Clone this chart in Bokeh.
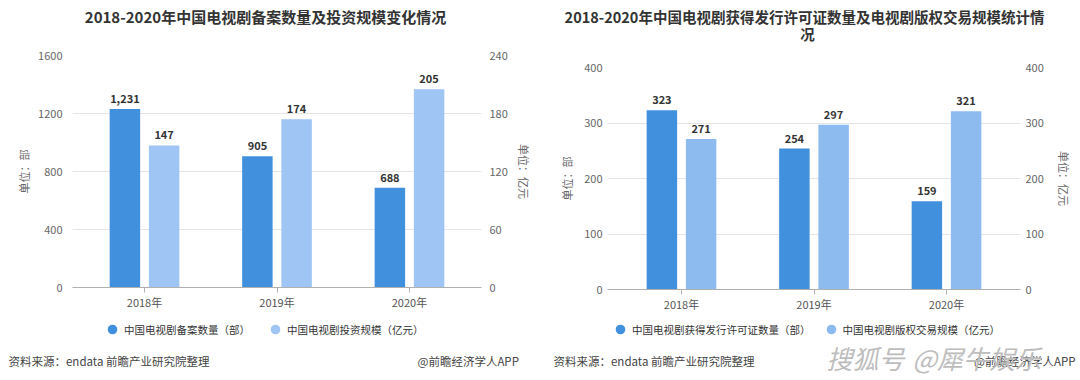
from bokeh.plotting import figure
from bokeh.models import (FactorRange, Range1d, LinearAxis, ColumnDataSource, LabelSet,
                          Label, Legend, LegendItem, FixedTicker)
from bokeh.transform import dodge
from bokeh.layouts import row, column
from bokeh.embed import file_html
from bokeh.resources import INLINE
from bokeh.core.properties import value

# ---------------- data ----------------
years = ["2018年", "2019年", "2020年"]

# chart 1
filings = [1231, 905, 688]          # 中国电视剧备案数量（部）
investment = [147, 174, 205]        # 中国电视剧投资规模（亿元）
# chart 2
licenses = [323, 254, 159]          # 中国电视剧获得发行许可证数量（部）
copyright_trade = [271, 297, 321]   # 中国电视剧版权交易规模（亿元）

title1 = "2018-2020年中国电视剧备案数量及投资规模变化情况"
title2 = ["2018-2020年中国电视剧获得发行许可证数量及电视剧版权交易规模统计情", "况"]
names1 = ["中国电视剧备案数量（部）", "中国电视剧投资规模（亿元）"]
names2 = ["中国电视剧获得发行许可证数量（部）", "中国电视剧版权交易规模（亿元）"]
left_ticks1 = [0, 400, 800, 1200, 1600]
right_ticks1 = [0, 60, 120, 180, 240]
left_ticks2 = [0, 100, 200, 300, 400]
right_ticks2 = [0, 100, 200, 300, 400]
unit_left = "单位：部"
unit_right = "单位：亿元"
source_note = "资料来源：endata 前瞻产业研究院整理"
credit = "@前瞻经济学人APP"
watermark = ["搜狐号", "@犀牛娱乐"]

FONT = "Noto Sans CJK SC"
DARK = "#4190DE"
LIGHT1 = "#9EC5F4"
LIGHT2 = "#8DBBF0"


def strip(width, height):
    s = figure(width=width, height=height, x_range=Range1d(0, width),
               y_range=Range1d(0, height), x_axis_type=None, y_axis_type=None,
               output_backend="svg", toolbar_location=None, min_border=0)
    s.outline_line_color = None
    s.frame_align = False
    return s


def make_chart(a, b, light, lt, rt, width, height, mb, pad, stand):
    p = figure(x_range=FactorRange(*years, range_padding=pad),
               y_range=Range1d(0, lt[-1]), width=width, height=height,
               output_backend="svg", toolbar_location=None,
               min_border_left=mb[0], min_border_right=mb[1],
               min_border_top=mb[2], min_border_bottom=mb[3])
    p.frame_align = False
    p.outline_line_color = None
    p.extra_y_ranges = {"r": Range1d(0, rt[-1])}
    src = ColumnDataSource(dict(year=years, a=a, b=b,
                                at=[f"{v:,}" for v in a], bt=[f"{v:,}" for v in b]))
    p.vbar(x=dodge("year", -0.148, range=p.x_range), top="a", width=0.23, source=src,
           fill_color=DARK, line_color=None)
    p.vbar(x=dodge("year", 0.148, range=p.x_range), top="b", width=0.23, source=src,
           fill_color=light, line_color=None, y_range_name="r")

    for fld, yf, off, rng in (("at", "a", -0.148, "default"), ("bt", "b", 0.148, "r")):
        p.add_layout(LabelSet(x=dodge("year", off, range=p.x_range), y=yf, text=fld,
                              source=src, y_range_name=rng, y_offset=6,
                              text_align="center", text_baseline="bottom",
                              text_font=value(FONT), text_font_size="11px",
                              text_font_style="bold", text_color="#333333"))

    ticker_l = FixedTicker(ticks=lt)
    ya = p.yaxis[0]
    ya.ticker = ticker_l
    p.ygrid.ticker = ticker_l
    p.ygrid.grid_line_color = "#e4e4e4"
    p.xgrid.grid_line_color = None
    yr = LinearAxis(y_range_name="r", ticker=FixedTicker(ticks=rt))
    p.add_layout(yr, "right")
    for ax, lab, s1, s2 in ((ya, unit_left, stand[0], stand[1]),
                            (yr, unit_right, stand[2], stand[3])):
        ax.axis_line_color = None
        ax.major_tick_line_color = None
        ax.minor_tick_line_color = None
        ax.major_tick_out = 0
        ax.major_tick_in = 0
        ax.minor_tick_out = 0
        ax.major_label_text_font = FONT
        ax.major_label_text_font_size = "11px"
        ax.major_label_text_color = "#666666"
        ax.major_label_standoff = s1
        ax.axis_label = lab
        ax.axis_label_text_font = FONT
        ax.axis_label_text_font_size = "11px"
        ax.axis_label_text_font_style = "normal"
        ax.axis_label_text_color = "#666666"
        ax.axis_label_standoff = s2
    xa = p.xaxis[0]
    xa.axis_line_color = "#b0b0b0"
    xa.major_tick_line_color = "#b0b0b0"
    xa.major_tick_out = 5
    xa.major_tick_in = 0
    xa.major_label_standoff = 1
    xa.major_label_text_font = FONT
    xa.major_label_text_font_size = "11px"
    xa.major_label_text_color = "#555555"
    return p


# ---------------- header (titles) ----------------
HEAD_H = 45
head = strip(1080, HEAD_H)
for txt, tx, ty, fs in ((title1, 265, 29, "15px"), (title2[0], 804, 29, "14.5px"),
                        (title2[1], 807, 12, "14.5px")):
    head.add_layout(Label(x=tx, y=ty, text=txt, text_align="center",
                          text_baseline="middle", text_font=FONT, text_font_size=fs,
                          text_font_style="bold", text_color="#333333"))

# ---------------- charts ----------------
CH_H = 269
p1 = make_chart(filings, investment, LIGHT1, left_ticks1, right_ticks1,
                width=548, height=CH_H, mb=(72, 67, 10, 27), pad=0.029,
                stand=(10, 3, 8, 5))
p2 = make_chart(licenses, copyright_trade, LIGHT2, left_ticks2, right_ticks2,
                width=532, height=CH_H, mb=(59, 60, 22, 24), pad=0.039,
                stand=(5, 6, 5, 9))

# ---------------- footer (legends + notes) ----------------
FOOT_H = 66
foot = strip(1080, FOOT_H)
for names, colors, loc, sp in ((names1, (DARK, LIGHT1), (100, 39), 13),
                               (names2, (DARK, LIGHT2), (608, 39), 8)):
    # legend swatches: one point each, kept outside the visible strip
    r1 = foot.scatter(x=[-100], y=[-100], marker="circle", fill_color=colors[0],
                      line_color=None)
    r2 = foot.scatter(x=[-100], y=[-100], marker="circle", fill_color=colors[1],
                      line_color=None)
    foot.add_layout(Legend(items=[LegendItem(label=names[0], renderers=[r1]),
                                  LegendItem(label=names[1], renderers=[r2])],
                           orientation="horizontal", location=loc,
                           padding=0, margin=0, spacing=sp,
                           glyph_width=24, glyph_height=24, label_height=24,
                           label_standoff=0, label_text_font=FONT,
                           label_text_font_size="10.5px", label_text_color="#333333",
                           border_line_color=None, background_fill_alpha=0))

notes = [
    (source_note, 8, 20, "left", "11.5px", "#444444", "normal"),
    (credit, 417, 20, "left", "11.5px", "#444444", "normal"),
    (source_note, 553, 20, "left", "11.5px", "#444444", "normal"),
    (credit, 1075, 20, "right", "11.5px", "#444444", "normal"),
    (watermark[0], 826, 23, "left", "26px", "#bdbdbd", "italic"),
    (watermark[1], 912, 23, "left", "26px", "#bdbdbd", "italic"),
]
for txt, tx, ty, align, size, color, style in notes:
    foot.add_layout(Label(x=tx, y=ty, text=txt, text_align=align, text_baseline="middle",
                          text_font=FONT, text_font_size=size, text_font_style=style,
                          text_color=color))

layout = column(head, row(p1, p2, spacing=0), foot, spacing=0)
open("out.html", "w").write(file_html(layout, INLINE))
